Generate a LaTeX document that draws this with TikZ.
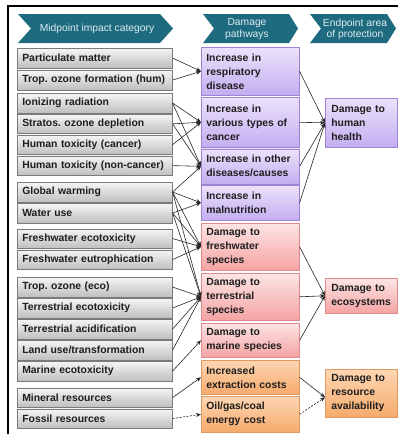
\documentclass[tikz,border=0pt]{standalone}
\usepackage{fontspec}
\setmainfont{Liberation Sans}
\usetikzlibrary{arrows.meta,shadows}
\frenchspacing
\definecolor{tealc}{HTML}{1E6B80}
\definecolor{headtxt}{HTML}{DDEBF0}
\definecolor{txt}{HTML}{1E1E1E}
\definecolor{gtop}{HTML}{F5F5F5}
\definecolor{gbot}{HTML}{BFBFBF}
\definecolor{gbord}{HTML}{7A7A7A}
\definecolor{ptop}{HTML}{EBE2FB}
\definecolor{pbot}{HTML}{C3ADF0}
\definecolor{pbord}{HTML}{9F84D6}
\definecolor{rtop}{HTML}{FDE4E4}
\definecolor{rbot}{HTML}{F4A3A3}
\definecolor{rbord}{HTML}{E08A8A}
\definecolor{otop}{HTML}{FDD6B2}
\definecolor{obot}{HTML}{F6AA6C}
\definecolor{obord}{HTML}{DE9960}
\tikzset{
  box/.style={draw, line width=0.6pt, anchor=north west, align=left, inner ysep=0pt,
    font=\bfseries\fontsize{10.4}{14}\selectfont\frenchspacing, text=txt,
    drop shadow={opacity=0.25, shadow xshift=0.8pt, shadow yshift=-0.8pt}},
  gbox/.style={box, draw=gbord, top color=gtop, bottom color=gbot, text width=145pt, inner xsep=5pt, minimum height=19.5pt},
  pbox/.style={box, draw=pbord, top color=ptop, bottom color=pbot, text width=88pt, inner xsep=5pt},
  rbox/.style={box, draw=rbord, top color=rtop, bottom color=rbot, text width=88pt, inner xsep=5pt},
  obox/.style={box, draw=obord, top color=otop, bottom color=obot, text width=88pt, inner xsep=5pt},
  pend/.style={pbox, text width=60pt, inner xsep=6pt},
  rend/.style={rbox, text width=60pt, inner xsep=6pt},
  oend/.style={obox, text width=60pt, inner xsep=6pt},
  chev/.style={fill=tealc, draw=none},
  headtext/.style={align=center, text=headtxt, font=\fontsize{10.3}{11.5}\selectfont, inner sep=0pt},
  conn/.style={line width=0.6pt, draw=black!85, -{Stealth[length=5pt,width=4pt]}},
  dconn/.style={conn, dash pattern=on 2pt off 1.5pt}
}
\begin{document}
\begin{tikzpicture}[x=1pt,y=-1pt]
\useasboundingbox (0,0) rectangle (398,434);
% frame
\draw[line width=1.2pt] (8,434) -- (8,6) -- (398,6);
% headers
\path[chev] (18,14) -- (160,14) -- (173,28.5) -- (160,43) -- (18,43) -- (31,28.5) -- cycle;
\path[chev] (203,14) -- (289,14) -- (298,28.5) -- (289,43) -- (203,43) -- (214,28.5) -- cycle;
\path[chev] (310,14) -- (387,14) -- (396,28.5) -- (387,43) -- (310,43) -- (321,28.5) -- cycle;
\node[headtext] (h1) at (97,29) {Midpoint impact category};
\node[headtext] (h2) at (247,29) {Damage\\pathways};
\node[headtext] (h3) at (355,29.5) {Endpoint area\\of protection};
% left boxes
\node[gbox] (pm)   at (17,48)    {Particulate matter};
\node[gbox] (toh)  at (17,70)    {Trop. ozone formation (hum)};
\node[gbox] (ir)   at (17,93)    {Ionizing radiation};
\node[gbox] (sod)  at (17,113.8) {Stratos. ozone depletion};
\node[gbox] (htc)  at (17,134.6) {Human toxicity (cancer)};
\node[gbox] (htnc) at (17,155.6) {Human toxicity (non-cancer)};
\node[gbox] (gw)   at (17,182)   {Global warming};
\node[gbox] (wu)   at (17,203)   {Water use};
\node[gbox] (fwe)  at (17,228.5) {Freshwater ecotoxicity};
\node[gbox] (feu)  at (17,249.5) {Freshwater eutrophication};
\node[gbox] (toe)  at (17,277)   {Trop. ozone (eco)};
\node[gbox] (tec)  at (17,298)   {Terrestrial ecotoxicity};
\node[gbox] (tac)  at (17,319)   {Terrestrial acidification};
\node[gbox] (lu)   at (17,340)   {Land use/transformation};
\node[gbox] (me)   at (17,361)   {Marine ecotoxicity};
\node[gbox] (mr)   at (17,387.5) {Mineral resources};
\node[gbox] (fr)   at (17,408.5) {Fossil resources};
% middle boxes
\node[pbox, minimum height=48pt] (resp)   at (201,47)  {Increase in\\respiratory\\disease};
\node[pbox, minimum height=50pt] (cancer) at (201,97)  {Increase in\\various types of\\cancer};
\node[pbox, minimum height=35pt] (other)  at (201,148.5) {Increase in other\\diseases/causes};
\node[pbox, minimum height=35pt] (maln)   at (201,185) {Increase in\\malnutrition};
\node[rbox, minimum height=47pt] (fw)     at (201,223) {Damage to\\freshwater\\species};
\node[rbox, minimum height=47pt] (terr)   at (201,273) {Damage to\\terrestrial\\species};
\node[rbox, minimum height=34pt] (marine) at (201,323) {Damage to\\marine species};
\node[obox, minimum height=34pt] (extr)   at (201,360) {Increased\\extraction costs};
\node[obox, minimum height=36pt] (energy) at (201,396) {Oil/gas/coal\\energy cost};
% endpoint boxes
\node[pend, minimum height=49pt] (hh)  at (325,98)  {Damage to\\human\\health};
\node[rend, minimum height=35pt] (eco) at (325,278) {Damage to\\ecosystems};
\node[oend, minimum height=48pt] (res) at (325,369) {Damage to\\resource\\availability};
% midpoint -> pathway
\draw[conn] (pm.east) -- (resp.west);
\draw[conn] (toh.east) -- (resp.west);
\draw[conn] (ir.east) -- (cancer.west);
\draw[conn] (ir.east) -- (other.west);
\draw[conn] (sod.east) -- (cancer.west);
\draw[conn] (sod.east) -- (other.west);
\draw[conn] (htc.east) -- (cancer.west);
\draw[conn] (htnc.east) -- (other.west);
\draw[conn] (gw.east) -- (other.west);
\draw[conn] (gw.east) -- (maln.west);
\draw[conn] (gw.east) -- (fw.west);
\draw[conn] (gw.east) -- (terr.west);
\draw[conn] (wu.east) -- (maln.west);
\draw[conn] (wu.east) -- (fw.west);
\draw[conn] (wu.east) -- (terr.west);
\draw[conn] (fwe.east) -- (fw.west);
\draw[conn] (feu.east) -- (fw.west);
\draw[conn] (toe.east) -- (terr.west);
\draw[conn] (tec.east) -- (terr.west);
\draw[conn] (tac.east) -- (terr.west);
\draw[conn] (lu.east) -- (terr.west);
\draw[conn] (me.east) -- (marine.west);
\draw[conn] (mr.east) -- (extr.west);
\draw[dconn] (fr.east) -- (energy.west);
% pathway -> endpoint
\draw[conn] (resp.east) -- (hh.west);
\draw[conn] (cancer.east) -- (hh.west);
\draw[conn] (other.east) -- (hh.west);
\draw[conn] (maln.east) -- (hh.west);
\draw[conn] (fw.east) -- (eco.west);
\draw[conn] (terr.east) -- (eco.west);
\draw[conn] (marine.east) -- (eco.west);
\draw[conn] (extr.east) -- ([yshift=-4pt]res.west);
\draw[dconn] (energy.east) -- ([yshift=-4pt]res.west);
\end{tikzpicture}
\end{document}
